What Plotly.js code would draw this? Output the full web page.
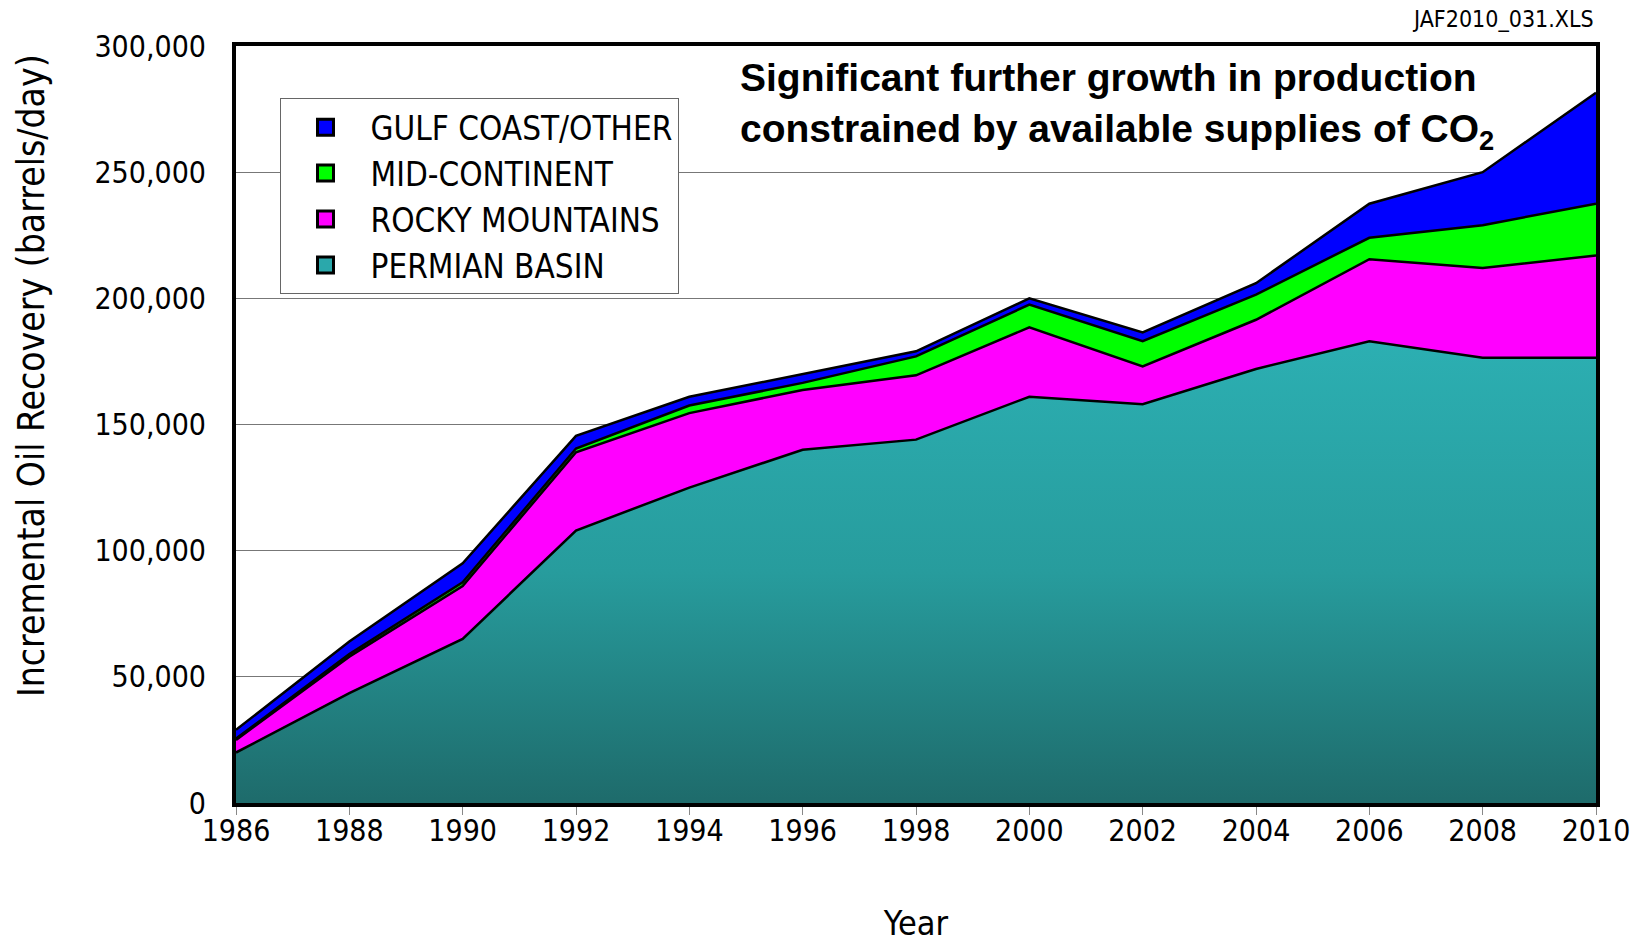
<!DOCTYPE html>
<html>
<head>
<meta charset="utf-8">
<script src="https://cdn.plot.ly/plotly-3.0.1.min.js"></script>
<style>html,body{margin:0;padding:0;background:#fff;}#chart{width:1639px;height:943px;}</style>
</head>
<body>
<div id="chart"></div>
<script>
const years = [1986,1988,1990,1992,1994,1996,1998,2000,2002,2004,2006,2008,2010];
const permian  = [20000,43500,65000,108000,125000,140000,144000,161000,158000,172000,183000,176500,176500];
const rocky    = [5000,14500,21000,31000,29500,23700,25500,27500,15000,19500,32500,35500,40500];
const midCont  = [500,1000,1500,1500,3000,2800,7500,9000,10000,10000,8500,17000,20500];
const gulf     = [3500,5000,7500,5000,3500,3500,2000,2500,3500,4500,13500,21000,44000];
const seriesNames = ['PERMIAN BASIN','ROCKY MOUNTAINS','MID-CONTINENT','GULF COAST/OTHER'];
const seriesColors = ['#2AA8AB','#FF00FF','#00FF00','#0000FF'];
const seriesValues = [permian, rocky, midCont, gulf];
const yTicks = [0,50000,100000,150000,200000,250000,300000];

const NARROW = '"Liberation Sans Narrow", "Arial Narrow", "DejaVu Sans Condensed", sans-serif';
const BOLD = '"Liberation Sans", Arial, sans-serif';

const traces = [];
seriesValues.forEach((vals, i) => {
  const t = {
    x: years, y: vals, type: 'scatter', mode: 'lines',
    stackgroup: 'one', showlegend: false, hoverinfo: 'x+y+name', name: seriesNames[i],
    line: {color: '#000', width: 2.5},
    fillcolor: seriesColors[i]
  };
  if (i === 0) {
    t.fillgradient = {type: 'vertical', colorscale: [[0, '#1E6B6B'], [0.5, '#279C9D'], [1, '#2CAFB2']]};
  }
  traces.push(t);
});
// legend entries (square swatches)
for (let i = seriesNames.length - 1; i >= 0; i--) {
  traces.push({
    x: [null], y: [null], type: 'scatter', mode: 'markers', name: seriesNames[i],
    marker: {symbol: 'square', size: 16, color: seriesColors[i], line: {color: '#000', width: 3}},
    showlegend: true
  });
}

const layout = {
  width: 1639, height: 943,
  margin: {l: 236, r: 43, t: 46, b: 140},
  paper_bgcolor: '#fff', plot_bgcolor: '#fff',
  font: {family: NARROW, color: '#000', size: 32},
  showlegend: true,
  legend: {
    x: 0.032, y: 0.931, xanchor: 'left', yanchor: 'top',
    bgcolor: '#fff', bordercolor: '#666', borderwidth: 1,
    font: {family: NARROW, size: 33, color: '#000'},
    traceorder: 'normal', tracegroupgap: 0, itemwidth: 80,
    entrywidth: 440
  },
  xaxis: {
    range: [1986, 2010], tickmode: 'array', tickvals: years, ticktext: years.map(String),
    ticks: 'outside', ticklen: 8, tickcolor: '#888', tickwidth: 1,
    showline: true, linecolor: '#000', linewidth: 4, mirror: true,
    showgrid: false, zeroline: false,
    tickfont: {family: NARROW, size: 30},
    ticklabelstandoff: -10,
    title: {text: 'Year', font: {family: NARROW, size: 34}, standoff: 68}
  },
  yaxis: {
    range: [0, 300000], tickmode: 'array', tickvals: yTicks,
    ticktext: yTicks.map(v => v.toLocaleString('en-US')),
    ticks: '', showline: true, linecolor: '#000', linewidth: 4, mirror: true,
    showgrid: true, gridcolor: '#777', gridwidth: 1, zeroline: false,
    tickfont: {family: NARROW, size: 30},
    ticklabelstandoff: 20
  },
  annotations: [
    {
      xref: 'paper', yref: 'paper', x: -0.1507, y: 0.564, xanchor: 'center', yanchor: 'middle',
      textangle: -90, showarrow: false,
      text: 'Incremental Oil Recovery (barrels/day)',
      font: {family: NARROW, size: 37, color: '#000'}
    },
    {
      xref: 'paper', yref: 'paper', x: 0.369, y: 0.99, xanchor: 'left', yanchor: 'top', align: 'left',
      showarrow: false,
      text: '<b>Significant further growth in production<br>constrained by available supplies of CO<sub>2</sub></b>',
      font: {family: BOLD, size: 39, color: '#000'}
    },
    {
      xref: 'paper', yref: 'paper', x: 1.0, y: 1.036, xanchor: 'right', yanchor: 'middle',
      showarrow: false, text: 'JAF2010_031.XLS',
      font: {family: NARROW, size: 23, color: '#000'}
    }
  ]
};

Plotly.newPlot('chart', traces, layout, {displayModeBar: false, staticPlot: true});
</script>
</body>
</html>
